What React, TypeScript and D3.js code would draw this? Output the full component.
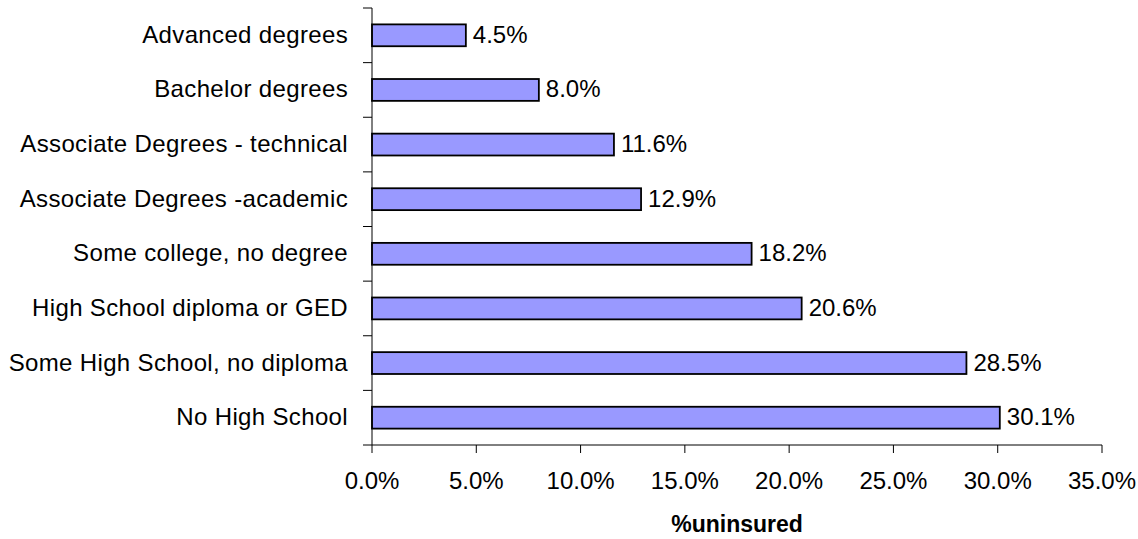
import React from "react";
import * as d3 from "d3";

const categories = [
  "Advanced degrees",
  "Bachelor degrees",
  "Associate Degrees - technical",
  "Associate Degrees -academic",
  "Some college, no degree",
  "High School diploma or GED",
  "Some High School, no diploma",
  "No High School",
];
const values = [4.5, 8.0, 11.6, 12.9, 18.2, 20.6, 28.5, 30.1];
const xTicks = [0, 5, 10, 15, 20, 25, 30, 35];
const axisTitle = "%uninsured";

const W = 1138;
const H = 539;
const left = 372;
const right = 1102;
const top = 8;
const bottom = 445;
const FONT = "'Liberation Sans', Arial, sans-serif";

export default function App() {
  const x = d3.scaleLinear().domain([0, 35]).range([left, right]);
  const y = d3
    .scaleBand<string>()
    .domain(categories)
    .range([top, bottom])
    .paddingInner(0.6)
    .paddingOuter(0.3);
  const step = y.step();
  const boundaries = d3.range(categories.length + 1).map((i) => top + i * step);

  return (
    <svg
      width={W}
      height={H}
      style={{ position: "absolute", left: 0, top: 0, background: "#fff" }}
      fontFamily={FONT}
    >
      {categories.map((c, i) => {
        const yy = y(c)!;
        return (
          <g key={c}>
            <rect
              x={x(0)}
              y={yy}
              width={x(values[i]) - x(0)}
              height={y.bandwidth()}
              fill="#9999FF"
              stroke="#000"
              strokeWidth={1.8}
            />
            <text
              x={x(values[i]) + 7}
              y={yy + y.bandwidth() / 2 + 7.5}
              fontSize={24}
              fill="#000"
            >
              {values[i].toFixed(1) + "%"}
            </text>
            <text
              x={348}
              y={yy + y.bandwidth() / 2 + 7.5}
              fontSize={24}
              letterSpacing={0.35}
              textAnchor="end"
              fill="#000"
            >
              {c}
            </text>
          </g>
        );
      })}
      <line x1={left} x2={left} y1={top} y2={bottom} stroke="#000" strokeWidth={1} />
      {boundaries.map((b, i) => (
        <line key={i} x1={left - 9} x2={left} y1={b} y2={b} stroke="#000" strokeWidth={1} />
      ))}
      <line x1={left} x2={right} y1={bottom} y2={bottom} stroke="#000" strokeWidth={1} />
      {xTicks.map((t) => (
        <g key={t}>
          <line x1={x(t)} x2={x(t)} y1={bottom} y2={bottom + 8} stroke="#000" strokeWidth={1} />
          <text x={x(t)} y={489} fontSize={24} textAnchor="middle" fill="#000">
            {t.toFixed(1) + "%"}
          </text>
        </g>
      ))}
      <text
        x={(left + right) / 2}
        y={532}
        fontSize={23}
        fontWeight="bold"
        textAnchor="middle"
        fill="#000"
      >
        {axisTitle}
      </text>
    </svg>
  );
}
